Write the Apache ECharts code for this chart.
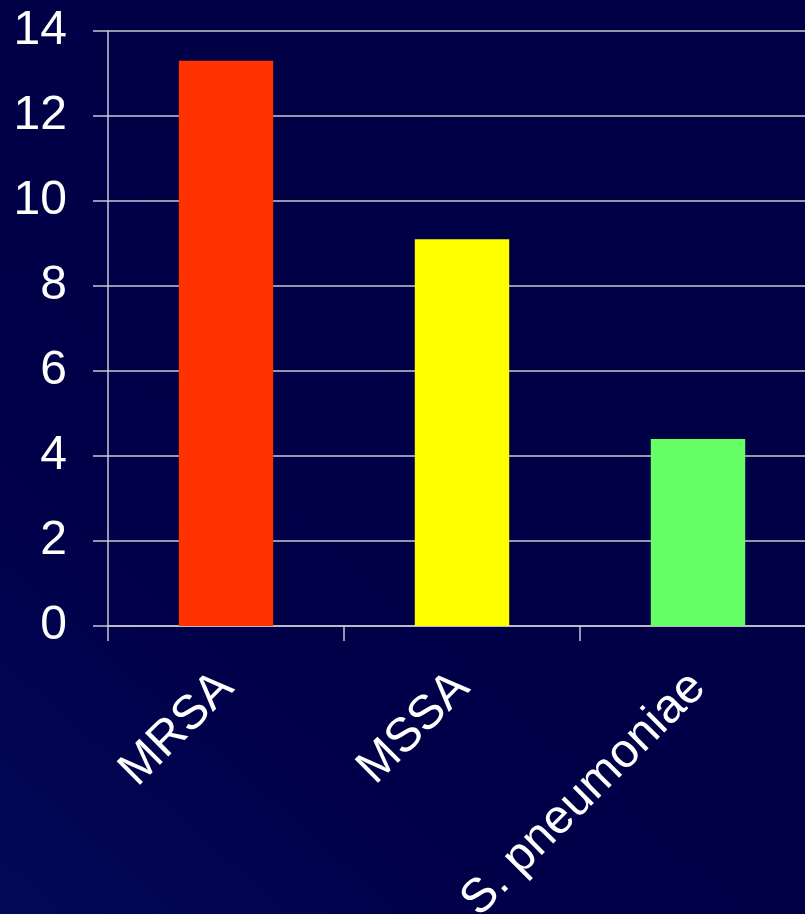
<!DOCTYPE html>
<html>
<head>
<meta charset="utf-8">
<script src="https://cdn.jsdelivr.net/npm/echarts@6/dist/echarts.min.js"></script>
<style>
html,body{margin:0;padding:0;width:805px;height:914px;overflow:hidden;background:#00004a;}
#chart{width:805px;height:914px;}
</style>
</head>
<body>
<div id="chart"></div>
<script>
var categories = ["MRSA", "MSSA", "S. pneumoniae"];
var values = [13.3, 9.1, 4.4];
var barColors = ["#ff3300", "#ffff00", "#66ff66"];
var yTicks = [0, 2, 4, 6, 8, 10, 12, 14];

var chart = echarts.init(document.getElementById('chart'));
chart.setOption({
  backgroundColor: {
    type: 'linear', x: 1, y: 0, x2: 0, y2: 1,
    colorStops: [
      {offset: 0, color: '#000046'},
      {offset: 0.7, color: '#000048'},
      {offset: 1, color: '#040858'}
    ]
  },
  animation: false,
  grid: {left: 108, top: 31, right: -11, bottom: 288, containLabel: false, outerBoundsMode: 'none'},
  xAxis: {
    type: 'category',
    data: categories,
    boundaryGap: true,
    axisLine: {show: true, lineStyle: {color: '#c8c8d0', width: 1.5}},
    axisTick: {show: true, length: 15, alignWithLabel: false, lineStyle: {color: '#c8c8d0', width: 1.5}},
    axisLabel: {
      rotate: 45, margin: 54, color: '#ffffff',
      fontFamily: 'Liberation Sans, Arial, sans-serif', fontSize: 48,
      interval: 0
    }
  },
  yAxis: {
    type: 'value',
    min: yTicks[0], max: yTicks[yTicks.length - 1], interval: 2,
    axisLine: {show: true, lineStyle: {color: '#c8c8d0', width: 1.5}},
    axisTick: {show: true, length: 15, lineStyle: {color: '#c8c8d0', width: 1.5}},
    splitLine: {show: true, lineStyle: {color: '#c8c8d0', width: 1.5}},
    axisLabel: {
      margin: 41, color: '#ffffff',
      fontFamily: 'Liberation Sans, Arial, sans-serif', fontSize: 48
    }
  },
  series: [{
    type: 'bar',
    barWidth: '40%',
    data: values.map(function (v, i) {
      return {value: v, itemStyle: {color: barColors[i]}};
    })
  }]
});
</script>
</body>
</html>
